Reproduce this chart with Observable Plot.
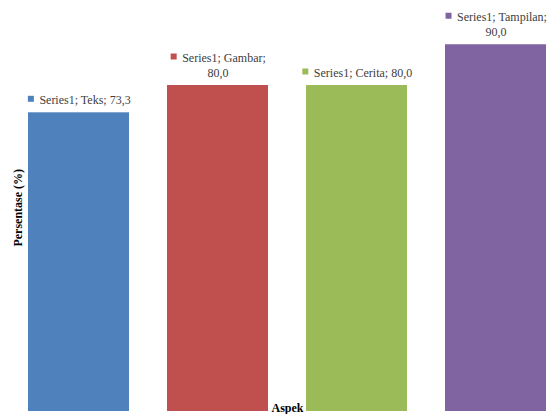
<!DOCTYPE html>
<html>
<head>
<meta charset="utf-8">
<script src="https://cdn.jsdelivr.net/npm/d3@7"></script>
<script src="https://cdn.jsdelivr.net/npm/@observablehq/plot@0.6"></script>
<style>
  html, body { margin: 0; padding: 0; background: #ffffff; }
</style>
</head>
<body>
<div id="chart"></div>
<script>
const categories = ["Teks", "Gambar", "Cerita", "Tampilan"];
const values = [73.3, 80.0, 80.0, 90.0];
const seriesName = "Series1";
const labelWraps = [false, true, false, true];
const colors = ["#4F81BD", "#C0504D", "#9BBB59", "#8064A2"];
const yTitle = "Persentase (%)";
const xTitle = "Aspek";

const data = categories.map((c, i) => {
  const v = values[i].toFixed(1).replace(".", ",");
  const sep = labelWraps[i] ? "\n" : " ";
  return {
    cat: c,
    value: values[i],
    label: "\u2003" + seriesName + "; " + c + ";" + sep + v
  };
});

const chart = Plot.plot({
  width: 555,
  height: 414,
  marginLeft: 8,
  marginRight: -11,
  marginTop: 3.5,
  marginBottom: 3,
  style: { fontFamily: "'Liberation Serif', 'Times New Roman', serif", fontSize: "12px", background: "#ffffff", overflow: "hidden" },
  x: { domain: categories, paddingInner: 0.27, paddingOuter: 0.135, axis: null },
  y: { domain: [0, 100], axis: null },
  color: { domain: categories, range: colors },
  marks: [
    Plot.barY(data, { x: "cat", y: "value", fill: "cat" }),
    Plot.text(data, { x: "cat", y: "value", text: "label", lineAnchor: "bottom", lineHeight: 1.25, dy: -9, fill: "#404040" }),
    Plot.text([yTitle], { text: d => d, frameAnchor: "left", textAnchor: "middle", rotate: -90, dx: 10, fontWeight: "bold", fill: "#000000" }),
    Plot.text([xTitle], { text: d => d, frameAnchor: "bottom", lineAnchor: "bottom", dy: 0.5, fontWeight: "bold", fill: "#000000" })
  ]
});

document.getElementById("chart").appendChild(chart);

// legend-key squares before each data label
const g = chart.querySelectorAll('g[aria-label="text"]')[0];
if (g) {
  const texts = Array.from(g.querySelectorAll("text"));
  texts.forEach((t, i) => {
    const p = t.getStartPositionOfChar(0);
    const r = document.createElementNS("http://www.w3.org/2000/svg", "rect");
    r.setAttribute("x", p.x + 0.5);
    r.setAttribute("y", p.y - 8);
    r.setAttribute("width", 6);
    r.setAttribute("height", 6);
    r.setAttribute("fill", colors[i]);
    const tr = t.getAttribute("transform");
    if (tr) r.setAttribute("transform", tr);
    g.insertBefore(r, t);
  });
}
</script>
</body>
</html>
